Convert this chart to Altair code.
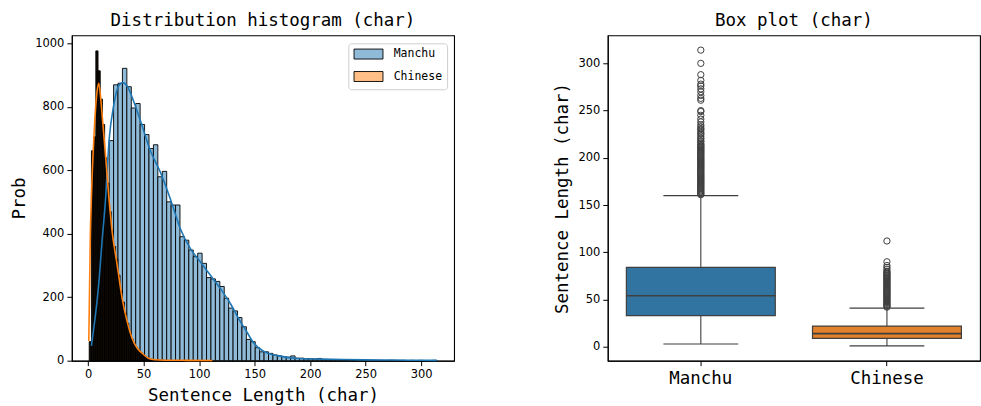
import altair as alt
import pandas as pd

# ---------------- data ----------------
languages = ["Manchu", "Chinese"]

# Manchu histogram: 78 equal bins from 3 to 314
manchu_min, manchu_max, manchu_nbins = 3, 314, 78
manchu_counts = [55, 150, 300, 500, 694, 870, 875, 922, 864, 797,
                 811, 745, 713, 669, 681, 580, 597, 501, 491, 491,
                 391, 380, 349, 328, 339, 307, 262, 258, 250, 234,
                 197, 166, 157, 136, 107, 67, 60, 41, 28, 28,
                 23, 18, 15, 13, 11, 15, 8, 8, 6, 6,
                 5, 7, 4, 3, 3, 3, 2, 2, 2, 1,
                 2, 1, 1, 1, 1, 1, 0, 1, 1, 0,
                 1, 0, 1, 0, 1, 0, 0, 1]

# Chinese histogram: 56 equal bins from 1 to 112
chinese_min, chinese_max, chinese_nbins = 1, 112, 56
chinese_counts = [60, 662, 706, 977, 914, 825, 745, 640, 560, 470,
                  410, 360, 320, 270, 220, 185, 150, 118, 88, 68,
                  52, 42, 32, 26, 20, 14, 8, 6, 4, 3,
                  2, 2, 1, 1, 1, 1, 0, 1, 0, 0,
                  1, 0, 0, 0, 1, 0, 0, 0, 0, 0,
                  0, 0, 0, 0, 0, 1]

# KDE curves
manchu_kde_x = [3, 5, 8, 10, 12.5, 15.5, 19, 23, 27.5, 31, 35, 41, 47, 56, 65, 74, 83, 92, 101,
                110, 119, 128, 137, 142, 149.6, 158.7, 170.7, 188.8, 210, 230, 250, 270, 290, 314]
manchu_kde_y = [47, 100, 186, 260, 374, 500, 699, 804, 867, 877, 867, 818, 758, 663, 595, 511,
                417, 354, 312, 270, 228, 181, 124, 96, 54, 28, 16, 7, 5, 3.5, 2.5, 2, 1.5, 1]
chinese_kde_x = [0.6, 2, 3, 5, 8, 9.6, 11, 12.7, 15.7, 18.7, 21.7, 26.2, 30.7, 35.2, 39.7, 44.3,
                 48.8, 54.8, 60, 70, 90, 112]
chinese_kde_y = [62, 396, 520, 690, 847, 875, 840, 772, 647, 515, 406, 301, 196, 123, 70, 39, 23,
                 7, 3, 1.5, 1, 0.5]

# Box plot statistics
box_q1 = [33, 9]
box_median = [54, 14]
box_q3 = [84, 22]
box_low = [3, 1]
box_high = [160, 41]
manchu_outliers = list(range(161, 216)) + [217, 218, 220, 221, 223, 225, 226, 228, 230, 231, 233,
                                           235, 238, 241, 245, 249, 250, 261, 263, 266, 270, 273,
                                           276, 278, 282, 288, 300, 314]
chinese_outliers = list(range(42, 81)) + [82, 84, 86, 90, 112]

hist_x_ticks = [0, 50, 100, 150, 200, 250, 300]
hist_y_ticks = [0, 200, 400, 600, 800, 1000]
box_y_ticks = [0, 50, 100, 150, 200, 250, 300]

# ---------------- tables ----------------
def bins(vmin, vmax, n, counts, lang):
    w = (vmax - vmin) / n
    return pd.DataFrame({
        "start": [vmin + i * w for i in range(n)],
        "end": [vmin + (i + 1) * w for i in range(n)],
        "count": counts,
        "lang": lang,
    })

manchu_df = bins(manchu_min, manchu_max, manchu_nbins, manchu_counts, "Manchu")
chinese_df = bins(chinese_min, chinese_max, chinese_nbins, chinese_counts, "Chinese")
mkde = pd.DataFrame({"x": manchu_kde_x, "y": manchu_kde_y})
ckde = pd.DataFrame({"x": chinese_kde_x, "y": chinese_kde_y})

box_df = pd.DataFrame({"group": languages, "q1": box_q1, "med": box_median, "q3": box_q3,
                       "lo": box_low, "hi": box_high})
out_df = pd.DataFrame({
    "group": ["Manchu"] * len(manchu_outliers) + ["Chinese"] * len(chinese_outliers),
    "v": manchu_outliers + chinese_outliers,
})

MONO = "DejaVu Sans Mono"
SANS = "DejaVu Sans"

# ---------------- left: histogram ----------------
xs = alt.Scale(domain=[-14.65, 329.65], nice=False, zero=False)
ys = alt.Scale(domain=[0, 1026], nice=False)

x_enc = alt.X("start:Q", scale=xs,
              axis=alt.Axis(values=hist_x_ticks, title="Sentence Length (char)"))
y_enc = alt.Y("count:Q", scale=ys,
              axis=alt.Axis(values=hist_y_ticks, format="d", title="Prob"))

manchu_bars = alt.Chart(manchu_df).mark_rect(stroke="black", strokeWidth=0.9, opacity=1).encode(
    x=x_enc, x2="end:Q", y=y_enc, y2=alt.datum(0),
    fill=alt.Fill("lang:N",
                  scale=alt.Scale(domain=languages, range=["#8fbbd9", "#ffbf86"]),
                  legend=alt.Legend(title=None, orient="top-right", offset=7.5,
                                    fillColor="white", strokeColor="#cfcfcf", cornerRadius=3,
                                    padding=5, labelFont=MONO, labelFontSize=11.5,
                                    labelColor="black", labelOffset=29,
                                    symbolType="M-1,-1H4.8V1H-1Z", symbolSize=100,
                                    symbolStrokeColor="black", symbolStrokeWidth=0.9,
                                    symbolOpacity=1, rowPadding=7.5)),
)
chinese_bars = alt.Chart(chinese_df).mark_rect(stroke="black", strokeWidth=0.9, fill="#100a04",
                                               opacity=1).encode(
    x="start:Q", x2="end:Q", y="count:Q", y2=alt.datum(0),
)
mline = alt.Chart(mkde).mark_line(color="#1f77b4", strokeWidth=1.6, interpolate="monotone").encode(
    x="x:Q", y="y:Q")
cline = alt.Chart(ckde).mark_line(color="#ff7f0e", strokeWidth=1.6, interpolate="monotone").encode(
    x="x:Q", y="y:Q")

left = alt.layer(manchu_bars, chinese_bars, mline, cline).properties(
    width=383, height=326,
    title=alt.Title("Distribution histogram (char)", font=MONO, fontSize=17.5,
                    fontWeight="normal", color="black", offset=6),
)

# ---------------- right: box plot ----------------
xb = alt.X("group:N", sort=languages,
           scale=alt.Scale(domain=languages, paddingInner=0.2, paddingOuter=0.1),
           axis=alt.Axis(title=None, labelAngle=0, labelFont=MONO, labelFontSize=17.5,
                         labelPadding=4))
ybs = alt.Scale(domain=[-14.65, 329.65], nice=False, zero=False)
LINE = "#3f3f3f"

whisk = alt.Chart(box_df).mark_rule(color=LINE, strokeWidth=1.1).encode(
    x=xb,
    y=alt.Y("lo:Q", scale=ybs, axis=alt.Axis(values=box_y_ticks, title="Sentence Length (char)")),
    y2="hi:Q",
)
boxes = alt.Chart(box_df).mark_bar(stroke=LINE, strokeWidth=1.2, opacity=1).encode(
    x=xb, y="q1:Q", y2="q3:Q",
    color=alt.Color("group:N", scale=alt.Scale(domain=languages, range=["#3274a1", "#e1812c"]),
                    legend=None),
)
med = alt.Chart(box_df).mark_tick(color=LINE, thickness=1.6, size=149, opacity=1).encode(
    x=xb, y="med:Q")
cap_lo = alt.Chart(box_df).mark_tick(color=LINE, thickness=1.1, size=75, opacity=1).encode(
    x=xb, y="lo:Q")
cap_hi = alt.Chart(box_df).mark_tick(color=LINE, thickness=1.1, size=75, opacity=1).encode(
    x=xb, y="hi:Q")
outs = alt.Chart(out_df).mark_point(shape="circle", filled=False, size=40, color=LINE,
                                    strokeWidth=1, opacity=1).encode(
    x=xb, y="v:Q")

right = alt.layer(whisk, boxes, med, cap_lo, cap_hi, outs).properties(
    width=373, height=326,
    title=alt.Title("Box plot (char)", font=MONO, fontSize=17.5, fontWeight="normal",
                    color="black", offset=6),
)

chart = alt.hconcat(left, right, spacing=98).resolve_scale(
    fill="independent", color="independent", x="independent", y="independent",
).resolve_legend(fill="independent", color="independent").properties(
    padding={"left": 10, "top": 10, "right": 0, "bottom": 0},
    background="white",
).configure_view(
    stroke="black", strokeWidth=1.1,
).configure_axis(
    grid=False, domainColor="black", domainWidth=1.1, tickColor="black", tickSize=5,
    tickWidth=1, labelFont=SANS, labelFontSize=11.5, labelColor="black", labelPadding=3,
    titleFont=MONO, titleFontSize=17.5, titleFontWeight="normal", titleColor="black",
    titlePadding=6,
)

chart.save("out.html", embed_options={"renderer": "svg", "actions": False})
